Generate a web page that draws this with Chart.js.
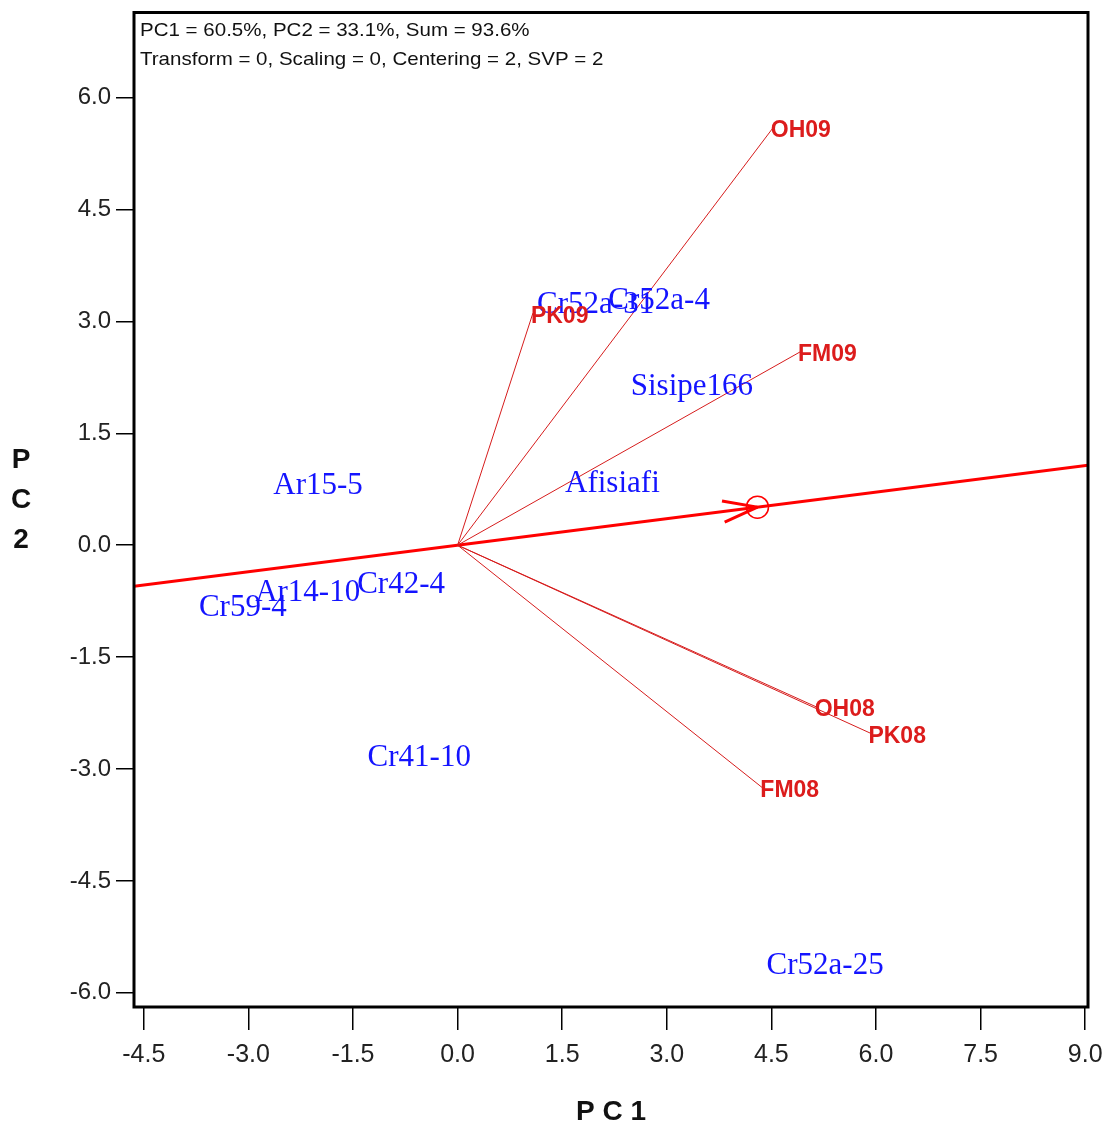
<!DOCTYPE html>
<html>
<head>
<meta charset="utf-8">
<script src="https://cdn.jsdelivr.net/npm/chart.js@4.4.1/dist/chart.umd.min.js"></script>
<style>
  html, body { margin: 0; padding: 0; background: #fff; }
  #wrap { width: 1104px; height: 1127px; }
</style>
</head>
<body>
<div id="wrap"><canvas id="biplot"></canvas></div>
<script>
// genotype scores
const genotypes = ['Cr52a-25', 'Cr41-10', 'Cr59-4', 'Ar14-10', 'Cr42-4', 'Ar15-5', 'Afisiafi', 'Sisipe166', 'Cr52a-31', 'Cr52a-4'];
const genoPC1 = [5.27, -0.55, -3.08, -2.15, -0.81, -2.00, 2.22, 3.36, 1.98, 2.89];
const genoPC2 = [-5.60, -2.81, -0.80, -0.60, -0.49, 0.83, 0.86, 2.16, 3.26, 3.31];

// environment vectors
const environments = ['OH09', 'PK09', 'FM09', 'OH08', 'PK08', 'FM08'];
const envPC1 = [4.52, 1.08, 4.91, 5.15, 5.92, 4.37];
const envPC2 = [5.59, 3.11, 2.59, -2.17, -2.52, -3.25];

// average environment axis
const aecPC1 = [-4.64, 9.04];
const aecPC2 = [-0.55, 1.07];
const avgEnv = [4.30, 0.51];

const xTicks = [-4.5, -3.0, -1.5, 0.0, 1.5, 3.0, 4.5, 6.0, 7.5, 9.0];
const yTicks = [-6.0, -4.5, -3.0, -1.5, 0.0, 1.5, 3.0, 4.5, 6.0];
const headerLines = ['PC1 = 60.5%, PC2 = 33.1%, Sum = 93.6%', 'Transform = 0, Scaling = 0, Centering = 2, SVP = 2'];

const datasets = [];
environments.forEach(function(name, i) {
    datasets.push({
        label: name,
        data: [{x: 0, y: 0}, {x: envPC1[i], y: envPC2[i]}],
        showLine: true,
        borderColor: '#d61c1c',
        borderWidth: 1,
        pointRadius: 0
    });
});
datasets.push({
    label: 'AEC',
    data: aecPC1.map((x, i) => ({x: x, y: aecPC2[i]})),
    showLine: true,
    borderColor: '#ff0000',
    borderWidth: 3,
    pointRadius: 0
});
datasets.push({
    label: 'Average environment',
    data: [{x: avgEnv[0], y: avgEnv[1]}],
    pointRadius: 11,
    pointBackgroundColor: 'rgba(0,0,0,0)',
    pointBorderColor: '#ff0000',
    pointBorderWidth: 1.5
});
datasets.push({
    label: 'Genotypes',
    data: genotypes.map((g, i) => ({x: genoPC1[i], y: genoPC2[i]})),
    pointRadius: 0
});

const biplotText = {
    id: 'biplotText',
    afterDatasetsDraw(chart) {
        const ctx = chart.ctx;
        const xs = chart.scales.x, ys = chart.scales.y;
        const area = chart.chartArea;
        ctx.save();

        // arrow head on the average environment axis
        const tx = xs.getPixelForValue(avgEnv[0]), ty = ys.getPixelForValue(avgEnv[1]);
        const ang = Math.atan2(ys.getPixelForValue(aecPC2[1]) - ys.getPixelForValue(aecPC2[0]),
                               xs.getPixelForValue(aecPC1[1]) - xs.getPixelForValue(aecPC1[0]));
        ctx.strokeStyle = '#ff0000';
        ctx.lineWidth = 3;
        [0.3, -0.3].forEach(function(d) {
            ctx.beginPath();
            ctx.moveTo(tx, ty);
            ctx.lineTo(tx - 36 * Math.cos(ang + d), ty - 36 * Math.sin(ang + d));
            ctx.stroke();
        });

        // genotype labels
        ctx.fillStyle = '#1414ff';
        ctx.font = '31px "Liberation Serif"';
        ctx.textAlign = 'center';
        ctx.textBaseline = 'middle';
        genotypes.forEach(function(g, i) {
            ctx.fillText(g, xs.getPixelForValue(genoPC1[i]), ys.getPixelForValue(genoPC2[i]) + 3);
        });

        // environment labels
        ctx.fillStyle = '#dc1c1c';
        ctx.font = 'bold 23px "Liberation Sans"';
        ctx.textAlign = 'left';
        environments.forEach(function(e, i) {
            ctx.fillText(e, xs.getPixelForValue(envPC1[i]) - 2, ys.getPixelForValue(envPC2[i]) + 3);
        });

        // frame
        ctx.strokeStyle = '#000';
        ctx.lineWidth = 3;
        ctx.strokeRect(area.left, area.top, area.right - area.left, area.bottom - area.top);

        // header
        ctx.fillStyle = '#111';
        ctx.font = '19px "Liberation Sans"';
        ctx.textAlign = 'left';
        headerLines.forEach(function(t, i) {
            ctx.save();
            ctx.translate(area.left + 6, area.top + 18 + i * 29);
            ctx.scale(1.08, 1);
            ctx.fillText(t, 0, 0);
            ctx.restore();
        });

        // axis titles
        ctx.fillStyle = '#111';
        ctx.font = 'bold 28px "Liberation Sans"';
        ctx.textAlign = 'center';
        ctx.fillText('P C 1', 611, 1112);
        ['P', 'C', '2'].forEach(function(c, i) {
            ctx.fillText(c, 21, 460 + i * 40);
        });
        ctx.restore();
    }
};

new Chart(document.getElementById('biplot'), {
    type: 'scatter',
    data: {datasets: datasets},
    options: {
        responsive: true,
        maintainAspectRatio: false,
        animation: false,
        layout: {padding: {top: 12, right: 16, left: 0, bottom: 0}},
        plugins: {
            legend: {display: false},
            tooltip: {enabled: false}
        },
        scales: {
            x: {
                type: 'linear',
                min: -4.64,
                max: 9.04,
                afterBuildTicks: s => { s.ticks = xTicks.map(v => ({value: v})); },
                afterFit: s => { s.height = 120; s.paddingLeft = 0; s.paddingRight = 0; },
                border: {display: false},
                grid: {drawOnChartArea: false, drawTicks: true, tickLength: 23, color: '#000', lineWidth: 1.5},
                ticks: {
                    color: '#222',
                    autoSkip: false,
                    maxRotation: 0,
                    padding: 10,
                    font: {family: 'Liberation Sans', size: 25},
                    callback: v => v.toFixed(1)
                }
            },
            y: {
                type: 'linear',
                min: -6.19,
                max: 7.14,
                afterBuildTicks: s => { s.ticks = yTicks.map(v => ({value: v})); },
                afterFit: s => { s.width = 134; s.paddingTop = 0; s.paddingBottom = 0; },
                border: {display: false},
                grid: {drawOnChartArea: false, drawTicks: true, tickLength: 18, color: '#000', lineWidth: 1.5},
                ticks: {
                    color: '#222',
                    autoSkip: false,
                    padding: 5,
                    font: {family: 'Liberation Sans', size: 24},
                    callback: v => v.toFixed(1)
                }
            }
        }
    },
    plugins: [biplotText]
});
</script>
</body>
</html>
